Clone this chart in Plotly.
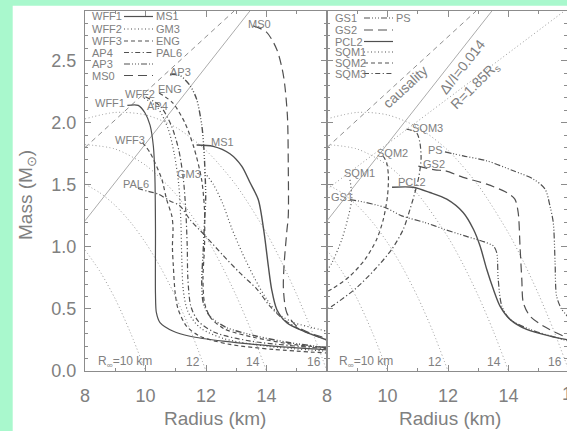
import plotly.graph_objects as go

# ---------------- mass-radius curves (R in km, M in solar masses) ----------------
# left panel
wff1_r = [9.40, 9.76, 9.98, 10.15, 10.26, 10.31, 10.33, 10.33, 10.36, 10.48, 10.92, 11.47, 12.57, 14.22, 16.0]
wff1_m = [2.14, 2.14, 2.08, 1.98, 1.81, 1.57, 1.14, 0.62, 0.47, 0.39, 0.32, 0.28, 0.24, 0.20, 0.17]

ms1_r = [11.69, 12.24, 12.79, 13.18, 13.45, 13.73, 13.92, 14.06, 14.17, 14.34, 14.67, 15.22, 16.0]
ms1_m = [1.82, 1.81, 1.75, 1.65, 1.52, 1.38, 1.115, 0.846, 0.658, 0.496, 0.389, 0.321, 0.25]

wff2_r = [9.95, 10.40, 10.75, 10.95, 11.10, 11.17, 11.20, 11.25, 11.40, 11.80, 12.60, 14.0, 16.0]
wff2_m = [2.20, 2.12, 1.95, 1.75, 1.50, 1.20, 0.90, 0.65, 0.48, 0.35, 0.26, 0.20, 0.16]

gm3_r = [11.95, 12.25, 12.55, 12.85, 13.20, 13.60, 14.00, 14.40, 14.90, 15.50, 16.0]
gm3_m = [1.60, 1.50, 1.35, 1.15, 0.95, 0.75, 0.58, 0.46, 0.39, 0.35, 0.32]

wff3_r = [9.90, 10.15, 10.31, 10.54, 10.70, 10.87, 10.91, 10.89, 10.92, 10.98, 11.08, 11.36, 11.80, 12.79, 14.22, 16.0]
wff3_m = [1.84, 1.76, 1.68, 1.545, 1.38, 1.25, 1.15, 1.00, 0.846, 0.63, 0.496, 0.36, 0.28, 0.214, 0.174, 0.145]

eng_r = [10.45, 10.90, 11.30, 11.60, 11.85, 11.95, 11.95, 11.90, 11.95, 12.15, 12.60, 13.60, 15.0, 16.0]
eng_m = [2.24, 2.16, 2.00, 1.80, 1.55, 1.30, 1.00, 0.75, 0.55, 0.43, 0.34, 0.27, 0.21, 0.19]

ap4_r = [10.0, 10.5, 10.85, 11.10, 11.25, 11.33, 11.38, 11.40, 11.50, 11.75, 12.30, 13.50, 16.0]
ap4_m = [2.21, 2.13, 1.98, 1.78, 1.55, 1.30, 1.00, 0.75, 0.52, 0.40, 0.31, 0.24, 0.18]

pal6_r = [9.75, 10.04, 10.42, 10.81, 11.14, 11.47, 11.97, 12.57, 13.12, 13.68, 14.12, 14.56, 15.11, 16.0]
pal6_m = [1.47, 1.45, 1.425, 1.37, 1.33, 1.22, 1.09, 0.93, 0.79, 0.66, 0.52, 0.416, 0.335, 0.25]

ap3_r = [10.81, 11.14, 11.47, 11.69, 11.86, 11.93, 11.99, 11.95, 11.91, 11.86, 11.91, 12.13, 12.68, 13.68, 14.78, 16.0]
ap3_m = [2.39, 2.38, 2.30, 2.19, 1.98, 1.79, 1.40, 1.20, 0.98, 0.71, 0.55, 0.44, 0.35, 0.28, 0.228, 0.187]

ms0_r = [13.56, 14.0, 14.34, 14.56, 14.69, 14.72, 14.72, 14.67, 14.58, 14.56, 14.67, 15.0, 15.55, 16.0]
ms0_m = [2.78, 2.73, 2.59, 2.38, 2.06, 1.65, 1.25, 1.12, 0.85, 0.66, 0.47, 0.36, 0.295, 0.265]

# right panel
gs1_r = [8.76, 9.03, 9.92, 10.47, 11.24, 11.90, 12.56, 13.20, 13.50, 13.61, 13.66, 13.78, 14.05, 14.71, 15.59, 16.0]
gs1_m = [1.38, 1.37, 1.317, 1.25, 1.196, 1.14, 1.088, 1.04, 1.007, 0.954, 0.738, 0.523, 0.416, 0.335, 0.268, 0.24]

ps_r = [11.90, 12.50, 13.28, 14.16, 14.82, 15.21, 15.37, 15.48, 15.54, 15.59, 15.76, 16.0]
ps_m = [1.765, 1.733, 1.693, 1.613, 1.546, 1.465, 1.33, 1.196, 0.873, 0.604, 0.496, 0.43]

gs2_r = [11.02, 11.57, 11.90, 12.50, 13.28, 13.94, 14.21, 14.32, 14.38, 14.44, 14.49, 14.71, 15.15, 16.0]
gs2_m = [1.65, 1.62, 1.613, 1.56, 1.505, 1.438, 1.384, 1.277, 1.007, 0.738, 0.55, 0.442, 0.362, 0.26]

pcl2_r = [10.15, 10.85, 11.40, 11.96, 12.50, 12.84, 13.06, 13.28, 13.50, 13.72, 14.05, 14.60, 15.37, 16.0]
pcl2_m = [1.48, 1.48, 1.438, 1.384, 1.277, 1.142, 1.007, 0.819, 0.658, 0.523, 0.416, 0.335, 0.281, 0.25]

sqm1_r = [8.76, 8.82, 8.70, 8.49, 8.16, 8.0]
sqm1_m = [1.54, 1.39, 1.24, 1.06, 0.87, 0.81]

sqm2_r = [9.86, 9.97, 10.03, 10.0, 9.86, 9.64, 9.26, 8.76, 8.15, 8.0]
sqm2_m = [1.73, 1.68, 1.57, 1.41, 1.22, 1.06, 0.90, 0.765, 0.658, 0.64]

sqm3_r = [10.63, 10.96, 11.07, 11.11, 11.04, 10.91, 10.74, 10.52, 10.14, 9.59, 8.93, 8.15, 8.0]
sqm3_m = [1.948, 1.92, 1.84, 1.71, 1.57, 1.44, 1.30, 1.14, 0.98, 0.82, 0.66, 0.52, 0.50]

# constant radiation-radius contours R_inf = 10, 12, 14, 16 km
rinf10_r = [8.0, 8.5, 9.0, 9.5, 10.0]
rinf10_m = [0.975, 0.80, 0.58, 0.31, 0.0]
rinf12_r = [8.0, 8.5, 9.0, 9.5, 10.0, 10.5, 11.0, 11.5, 12.0]
rinf12_m = [1.505, 1.434, 1.333, 1.20, 1.034, 0.833, 0.595, 0.318, 0.0]
rinf14_r = [8.0, 9.0, 10.0, 11.0, 12.0, 12.5, 13.0, 13.5, 14.0]
rinf14_m = [1.824, 1.788, 1.658, 1.425, 1.078, 0.858, 0.606, 0.321, 0.0]
rinf16_r = [8.0, 9.0, 10.0, 11.0, 12.0, 13.0, 14.0, 14.5, 15.0, 15.5, 16.0]
rinf16_m = [2.031, 2.083, 2.063, 1.963, 1.777, 1.495, 1.111, 0.877, 0.615, 0.323, 0.0]

# straight constraint lines (end points)
causal_r = [8.0, 12.93]
causal_m = [1.80, 2.90]
glitch_r = [8.0, 13.45]
glitch_m = [1.21, 2.90]
r185_r = [8.0, 15.93]
r185_m = [1.464, 2.915]

x_ticks = [8, 10, 12, 14]
y_ticks = [0.0, 0.5, 1.0, 1.5, 2.0, 2.5]

# ---------------- geometry & style ----------------
W, H = 567, 431
ML, MR, MT, MB = 85, 0, 11, 60
PW = W - ML - MR
PH = H - MT - MB
SPLIT = 327                       # pixel column shared by both panels
KM_PX = (SPLIT - ML) / 8.0
X2_MAX = 8 + (W - SPLIT) / KM_PX


def fx(p):
    return (p - ML) / PW


def fy(p):
    return (H - MB - p) / PH


MINT = "#a9f8cd"
INK = "#505050"
REF = "#9a9a9a"
TXT = "#808080"
AXC = "#8c8c8c"
SANS = "Liberation Sans, Arial, sans-serif"
LBL = "Liberation Sans, Arial, sans-serif"

SOLID = "solid"
DOT = "1px,2.5px"
DASH = "4px,3px"
DASHDOT = "5px,2.5px,1.2px,2.5px"
DASH3DOT = "6px,2px,1px,2px,1px,2px,1px,2px"
LONGDASH = "9px,5px"

fig = go.Figure()


def curve(r, m, dash, panel, color=INK, width=1.2, smooth=True):
    xa, ya = ("x", "y") if panel == 1 else ("x2", "y2")
    fig.add_trace(go.Scatter(
        x=r, y=m, mode="lines", xaxis=xa, yaxis=ya, showlegend=False,
        hoverinfo="skip",
        line=dict(color=color, width=width, dash=dash,
                  shape="spline" if smooth else "linear", smoothing=0.8),
    ))


# reference contours in both panels
for p in (1, 2):
    for rr, mm in ((rinf10_r, rinf10_m), (rinf12_r, rinf12_m),
                   (rinf14_r, rinf14_m), (rinf16_r, rinf16_m)):
        curve(rr, mm, DOT, p, color=REF, width=1.0)
    curve(glitch_r, glitch_m, SOLID, p, color="#ababab", width=1.0, smooth=False)
    curve(causal_r, causal_m, "5px,4px", p, color="#8f8f8f", width=1.0, smooth=False)
curve(r185_r, r185_m, DOT, 2, color=REF, width=1.0, smooth=False)

# equation-of-state curves, left panel
curve(wff1_r, wff1_m, SOLID, 1)
curve(ms1_r, ms1_m, SOLID, 1, width=1.4)
curve(wff2_r, wff2_m, DOT, 1)
curve(gm3_r, gm3_m, DOT, 1)
curve(wff3_r, wff3_m, DASH, 1)
curve(eng_r, eng_m, DASH, 1)
curve(ap4_r, ap4_m, DASHDOT, 1)
curve(pal6_r, pal6_m, DASHDOT, 1)
curve(ap3_r, ap3_m, DASH3DOT, 1, width=1.4)
curve(ms0_r, ms0_m, LONGDASH, 1)

# right panel
curve(gs1_r, gs1_m, DASH3DOT, 2)
curve(ps_r, ps_m, DASH3DOT, 2)
curve(gs2_r, gs2_m, LONGDASH, 2)
curve(pcl2_r, pcl2_m, SOLID, 2, width=1.4)
curve(sqm1_r, sqm1_m, DOT, 2)
curve(sqm2_r, sqm2_m, DASH, 2)
curve(sqm3_r, sqm3_m, DASHDOT, 2)

annotations = []
shapes = []


def text(s, x, y, size=11, family=LBL, angle=0, xanchor="center", color=TXT):
    annotations.append(dict(
        text=s, xref="paper", yref="paper", x=fx(x), y=fy(y), showarrow=False,
        xanchor=xanchor, yanchor="middle", textangle=angle,
        font=dict(family=family, size=size, color=color),
    ))


# curve labels
for s, x, y in (("WFF1", 110, 103), ("WFF2", 140, 94), ("AP4", 157, 106),
                ("ENG", 170, 89), ("AP3", 180, 72), ("WFF3", 130, 140),
                ("MS1", 222, 142), ("GM3", 189, 174), ("PAL6", 136, 184),
                ("MS0", 259, 24),
                ("SQM3", 427, 128), ("SQM2", 392, 153), ("SQM1", 359, 173),
                ("PS", 435, 150), ("GS2", 434, 164), ("PCL2", 412, 182),
                ("GS1", 342, 197)):
    text(s, x, y, size=11)

# line-style keys
left_rows = [("WFF1", SOLID, "MS1"), ("WFF2", DOT, "GM3"), ("WFF3", DASH, "ENG"),
             ("AP4", DASHDOT, "PAL6"), ("AP3", DASH3DOT, ""), ("MS0", LONGDASH, "")]
left_y = [16.5, 29, 41, 52.5, 64, 75.5]
for (a, d, b), y in zip(left_rows, left_y):
    text(a, 90, y, size=11, xanchor="left")
    shapes.append(dict(type="line", xref="paper", yref="paper",
                       x0=fx(124), x1=fx(153), y0=fy(y), y1=fy(y),
                       line=dict(color=INK, width=1.2, dash=d)))
    if b:
        text(b, 154, y, size=11, xanchor="left")

right_rows = [("GS1", DASH3DOT, "PS"), ("GS2", LONGDASH, ""), ("PCL2", SOLID, ""),
              ("SQM1", DOT, ""), ("SQM2", DASH, ""), ("SQM3", DASHDOT, "")]
right_y = [18, 30, 41.5, 52, 63, 73.5]
for (a, d, b), y in zip(right_rows, right_y):
    text(a, 333, y, size=11, xanchor="left")
    shapes.append(dict(type="line", xref="paper", yref="paper",
                       x0=fx(364), x1=fx(393), y0=fy(y), y1=fy(y),
                       line=dict(color=INK, width=1.2, dash=d)))
    if b:
        text(b, 394, y, size=11, xanchor="left")

# constraint line captions
text("causality", 405, 87, size=14, family=SANS, angle=-42.6)
text("ΔI/I=0.014", 462, 67, size=14, family=SANS, angle=-52)
text("R=1.85R<sub>s</sub>", 475, 86, size=14, family=SANS, angle=-45)

# R_inf captions along the bottom
for x0 in (96, 337):
    text("R<sub>∞</sub>=10 km", x0, 362, size=12, xanchor="left")
for xc, s in ((193, "12"), (253, "14"), (314, "16"), (435, "12"), (494, "14"), (555, "16")):
    text(s, xc, 362, size=12)

# axis titles and clipped edge tick label
text("Radius (km)", 215, 418, size=19, family=SANS)
text("Radius (km)", 450, 418, size=19, family=SANS)
text("Mass (M<sub>⊙</sub>)", 27, 195, size=19, family=SANS, angle=-90)
text("16", 572, 394, size=18, family=SANS)

# white page area on the mint backdrop
shapes.append(dict(type="rect", xref="paper", yref="paper", layer="below",
                   x0=fx(12.7), x1=fx(W + 5), y0=fy(H + 5), y1=fy(5.7),
                   fillcolor="white", line=dict(width=0)))

axis_common = dict(
    showline=True, linecolor=AXC, linewidth=1.2, mirror="ticks",
    ticks="inside", ticklen=6, tickwidth=1, tickcolor=AXC,
    showgrid=False, zeroline=False,
    tickfont=dict(family=SANS, size=18, color=TXT),
)
xminor = dict(tickmode="linear", tick0=8, dtick=1, ticks="inside", ticklen=3,
              tickcolor=AXC, showgrid=False)
yminor = dict(tickmode="linear", tick0=0, dtick=0.1, ticks="inside", ticklen=3,
              tickcolor=AXC, showgrid=False)

fig.update_layout(
    width=W, height=H,
    margin=dict(l=ML, r=MR, t=MT, b=MB, pad=0, autoexpand=False),
    paper_bgcolor=MINT, plot_bgcolor="white",
    showlegend=False,
    xaxis=dict(domain=[0, fx(SPLIT)], range=[8, 16], anchor="y",
               tickmode="array", tickvals=x_ticks, ticklabelstandoff=8,
               minor=xminor, **axis_common),
    xaxis2=dict(domain=[fx(SPLIT), 1], range=[8, X2_MAX], anchor="y2",
                tickmode="array", tickvals=x_ticks, ticklabelstandoff=8,
                minor=xminor, **axis_common),
    yaxis=dict(domain=[0, 1], range=[0, 2.9], anchor="x",
               tickmode="array", tickvals=y_ticks, ticktext=[f"{v:.1f}" for v in y_ticks],
               ticklabelstandoff=4, minor=yminor, **axis_common),
    yaxis2=dict(domain=[0, 1], range=[0, 2.9], anchor="x2",
                tickmode="array", tickvals=y_ticks, showticklabels=False,
                minor=yminor, **axis_common),
    annotations=annotations,
    shapes=shapes,
)

fig.write_html("out.html")
